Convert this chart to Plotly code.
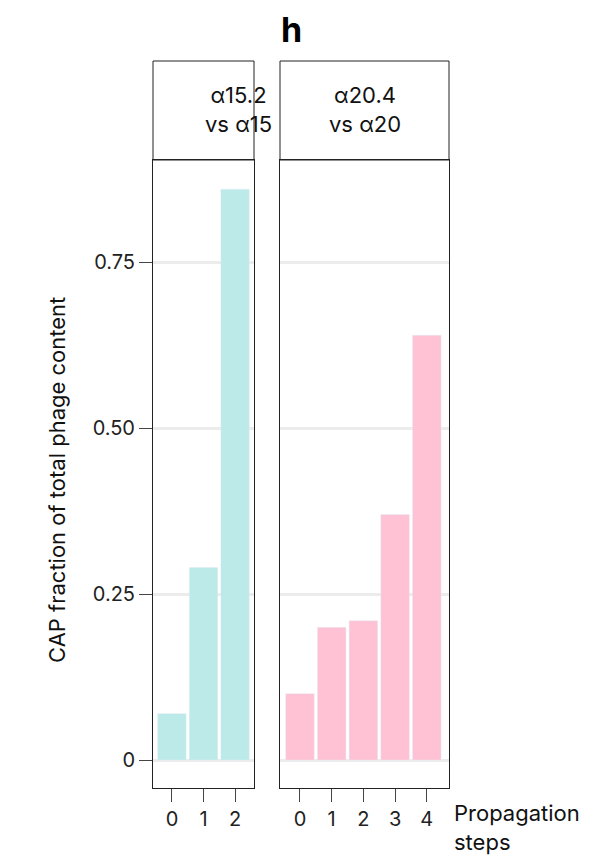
import plotly.graph_objects as go

steps_a = [0, 1, 2]
frac_a = [0.07, 0.29, 0.86]
steps_b = [0, 1, 2, 3, 4]
frac_b = [0.10, 0.20, 0.21, 0.37, 0.64]
panel_labels = ["α15.2<br>vs α15", "α20.4<br>vs α20"]
yticks = [0, 0.25, 0.5, 0.75]
ytick_text = ["0", "0.25", "0.50", "0.75"]

W, H = 603, 856
OFF = 8  # page body margin shifts everything by 8px
FONT = "Inter, Roboto, sans-serif"


def px(x):
    return (x - OFF) / W


def py(y):
    return 1 - (y - OFF) / H


fig = go.Figure()
fig.add_trace(go.Bar(x=steps_a, y=frac_a, marker_color="#bbeae8", xaxis="x", yaxis="y",
                     showlegend=False))
fig.add_trace(go.Bar(x=steps_b, y=frac_b, marker_color="#ffc1d4", xaxis="x2", yaxis="y2",
                     showlegend=False))

xd1 = [px(153), px(254)]
xd2 = [px(280), px(449)]
yd = [py(788), py(160)]
strip_top = py(61)
yr = [-0.042, 0.904]

axis_common = dict(showline=True, mirror=True, linecolor="#222", linewidth=1,
                   ticks="outside", ticklen=13, tickcolor="#444",
                   tickfont=dict(size=20, color="#222", family=FONT), showgrid=False,
                   zeroline=False)
fig.update_layout(
    width=W, height=H, margin=dict(l=0, r=0, t=0, b=0),
    plot_bgcolor="white", paper_bgcolor="white", bargap=0.1,
    font=dict(family=FONT),
    xaxis=dict(domain=xd1, range=[-0.6, 2.6], tickvals=steps_a, anchor="y", **axis_common),
    xaxis2=dict(domain=xd2, range=[-0.63, 4.7], tickvals=steps_b, anchor="y2", **axis_common),
    yaxis=dict(domain=yd, range=yr, anchor="x", tickvals=yticks, ticktext=ytick_text,
               **{**axis_common, "showgrid": True, "gridcolor": "#ececec", "gridwidth": 3}),
    yaxis2=dict(domain=yd, range=yr, anchor="x2", tickvals=yticks, showticklabels=False,
                ticks="", showline=True, mirror=True, linecolor="#222", showgrid=True,
                gridcolor="#ececec", gridwidth=3, zeroline=False),
)

for xd, lab in zip([xd1, xd2], panel_labels):
    fig.add_shape(type="rect", xref="paper", yref="paper", x0=xd[0], x1=xd[1],
                  y0=yd[1], y1=strip_top, line=dict(color="#222", width=1))
    fig.add_annotation(x=(xd[0] + xd[1]) / 2, y=py(110), xref="paper",
                       yref="paper", text=lab, showarrow=False, yanchor="middle",
                       font=dict(size=22, color="#111", family=FONT))

fig.add_annotation(x=px(291), y=py(30), xref="paper", yref="paper", text="<b>h</b>",
                   showarrow=False, yanchor="middle",
                   font=dict(size=34, color="#000", family=FONT))
fig.add_annotation(x=px(42), y=py(480), xref="paper", yref="paper",
                   text="CAP fraction of total phage content", textangle=-90,
                   showarrow=False, yanchor="middle",
                   font=dict(size=22, color="#111", family=FONT))
fig.add_annotation(x=px(452), y=py(827), xref="paper", yref="paper",
                   text="Propagation<br>steps", showarrow=False, xanchor="left",
                   yanchor="middle", align="left",
                   font=dict(size=22, color="#111", family=FONT))

fig.write_html("out.html")
